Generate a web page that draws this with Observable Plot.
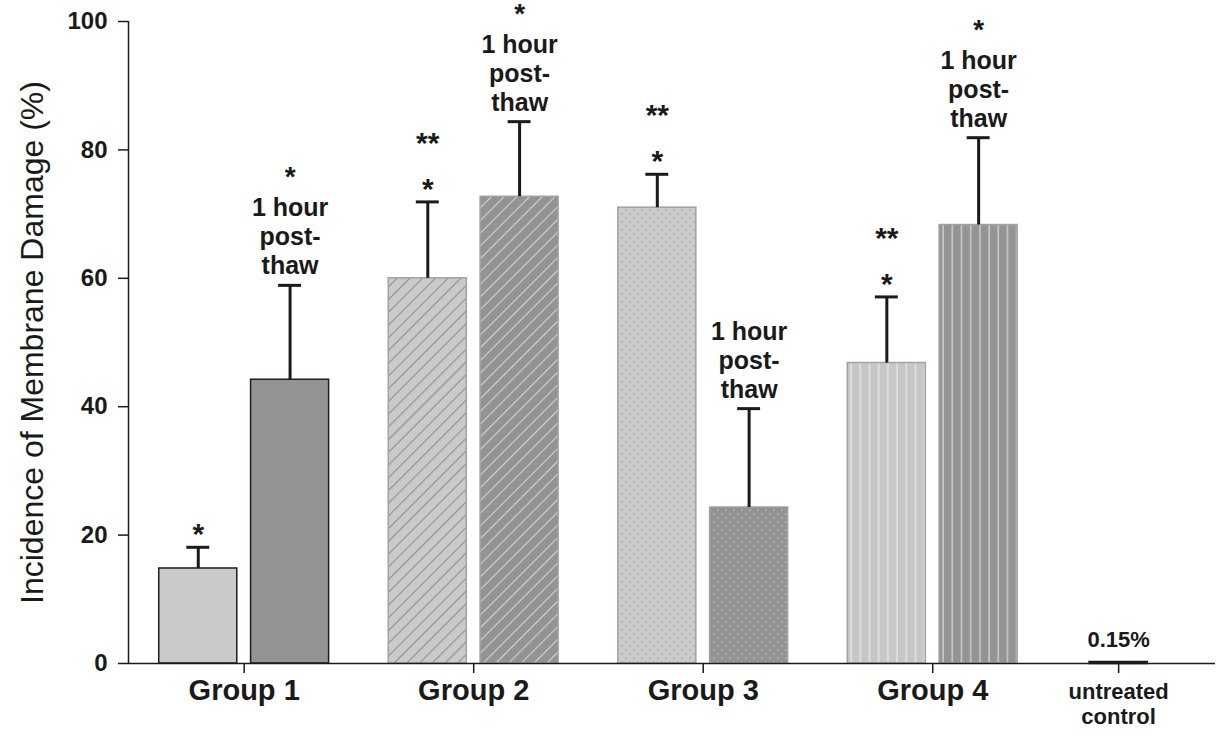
<!DOCTYPE html>
<html><head><meta charset="utf-8">
<script src="https://cdn.jsdelivr.net/npm/d3@7"></script>
<script src="https://cdn.jsdelivr.net/npm/@observablehq/plot@0.6"></script>
<style>
body{margin:0;background:#fff;}
#chart svg{display:block;}
</style>
</head><body><div id="chart"></div>
<script>
// ---- data ----
const groups = ["Group 1", "Group 2", "Group 3", "Group 4"];
const initialValues = [14.8, 60.0, 71.0, 46.8];
const initialErrorTops = [18.1, 71.9, 76.2, 57.1];
const postThawValues = [44.2, 72.7, 24.3, 68.3];
const postThawErrorTops = [58.9, 84.4, 39.7, 81.9];
const initialMarks = ["*", "*", "*", "*"];
const initialDoubleMarks = ["", "**", "**", "**"];
const postThawMarks = ["*", "*", "", "*"];
const postThawNote = "1 hour\npost-\nthaw";
const controlLabel = "untreated\ncontrol";
const controlValue = 0.15;
const controlText = "0.15%";
const yTicks = [0, 20, 40, 60, 80, 100];
const yLabel = "Incidence of Membrane Damage (%)";

// ---- layout / style (not data) ----
const offset = 0.2, bw = 0.34, capHalf = 0.05, controlPos = 3.81, controlHalf = 0.13;
const xDomain = [-0.504, 4.232];
const fills = [
  ["#c9cacc", "#929395"],
  ["url(#hatchlight)", "url(#hatchdark)"],
  ["url(#dotslight)", "url(#dotsdark)"],
  ["url(#vlight)", "url(#vdark)"]
];
const strokes = ["#1e1e1e", "#a2a2a2", "#a2a2a2", "#a2a2a2"];

const bars = [];
groups.forEach((g, i) => {
  bars.push({kind: "initial", gi: i, x: i - offset, v: initialValues[i], top: initialErrorTops[i],
             fill: fills[i][0], stroke: strokes[i], mark: initialMarks[i], mark2: initialDoubleMarks[i]});
  bars.push({kind: "post", gi: i, x: i + offset, v: postThawValues[i], top: postThawErrorTops[i],
             fill: fills[i][1], stroke: strokes[i], mark: postThawMarks[i], note: postThawNote});
});
const initialBars = bars.filter(d => d.kind === "initial");
const postBars = bars.filter(d => d.kind === "post");
const control = [{x: controlPos, v: controlValue, text: controlText}];

const font = "'Liberation Sans', Arial, Helvetica, sans-serif";

const chart = Plot.plot({
  width: 1220, height: 736,
  marginLeft: 128, marginRight: 5, marginTop: 21, marginBottom: 73,
  x: {domain: xDomain, axis: null},
  y: {domain: [0, 100], axis: null},
  color: {type: "identity"},
  style: {fontFamily: font, color: "#1a1a1a", background: "#fff", overflow: "visible"},
  marks: [
    Plot.rectY(bars, {x1: d => d.x - bw / 2, x2: d => d.x + bw / 2, y1: 0, y2: "v",
      fill: "fill", stroke: "stroke", strokeWidth: 1.5}),
    Plot.ruleX(bars, {x: "x", y1: "v", y2: "top", stroke: "#1a1a1a", strokeWidth: 3}),
    Plot.ruleY(bars, {y: "top", x1: d => d.x - capHalf, x2: d => d.x + capHalf, stroke: "#1a1a1a", strokeWidth: 3}),
    Plot.ruleY(control, {y: "v", x1: d => d.x - controlHalf, x2: d => d.x + controlHalf, stroke: "#1a1a1a", strokeWidth: 3.5}),
    Plot.ruleX([xDomain[0]], {stroke: "#1a1a1a", strokeWidth: 1.5}),
    Plot.ruleY([0], {stroke: "#1a1a1a", strokeWidth: 1.5}),
    Plot.axisY({ticks: yTicks, tickSize: 10, tickPadding: 11, fontSize: 24, fontWeight: "bold",
      label: null, stroke: "#1a1a1a", strokeWidth: 1.5}),
    Plot.axisX({ticks: [0, 1, 2, 3], tickFormat: i => groups[i], tickSize: 10, tickPadding: 6,
      fontSize: 29, fontWeight: "bold", label: null, strokeWidth: 1.5}),
    Plot.axisX({ticks: [controlPos], tickFormat: () => controlLabel, tickSize: 10, tickPadding: 8,
      fontSize: 22, fontWeight: "bold", lineHeight: 1.12, label: null, strokeWidth: 1.5}),
    Plot.text([yLabel], {frameAnchor: "left", textAnchor: "middle", rotate: -90, dx: -96,
      fontSize: 32, fill: "#1a1a1a"}),
    Plot.text(initialBars, {x: "x", y: "top", text: "mark", lineAnchor: "bottom", dy: -3,
      fontSize: 30, fontWeight: "bold"}),
    Plot.text(initialBars, {x: "x", y: "top", text: "mark2", lineAnchor: "bottom", dy: -49,
      fontSize: 30, fontWeight: "bold"}),
    Plot.text(postBars, {x: "x", y: "top", text: "note", lineAnchor: "bottom", dy: -11,
      fontSize: 25, fontWeight: "bold", lineHeight: 1.16}),
    Plot.text(postBars, {x: "x", y: "top", text: "mark", lineAnchor: "bottom", dy: -99,
      fontSize: 28, fontWeight: "bold"}),
    Plot.text(control, {x: "x", y: "v", text: "text", lineAnchor: "bottom", dy: -16,
      fontSize: 22, fontWeight: "bold"})
  ]
});

// pattern definitions
const defs = d3.select(chart).insert("defs", ":first-child");
function hatch(id, bg, fg) {
  const p = defs.append("pattern").attr("id", id).attr("patternUnits", "userSpaceOnUse")
    .attr("width", 9).attr("height", 9).attr("patternTransform", "rotate(45)");
  p.append("rect").attr("width", 9).attr("height", 9).attr("fill", bg);
  p.append("line").attr("x1", 0.5).attr("y1", 0).attr("x2", 0.5).attr("y2", 9)
    .attr("stroke", fg).attr("stroke-width", 1.1);
}
function dots(id, bg, fg) {
  const p = defs.append("pattern").attr("id", id).attr("patternUnits", "userSpaceOnUse")
    .attr("width", 8).attr("height", 8);
  p.append("rect").attr("width", 8).attr("height", 8).attr("fill", bg);
  p.append("circle").attr("cx", 2).attr("cy", 2).attr("r", 0.85).attr("fill", fg);
  p.append("circle").attr("cx", 6).attr("cy", 6).attr("r", 0.85).attr("fill", fg);
}
function vlines(id, bg, fg) {
  const p = defs.append("pattern").attr("id", id).attr("patternUnits", "userSpaceOnUse")
    .attr("width", 9.2).attr("height", 10);
  p.append("rect").attr("width", 9.2).attr("height", 10).attr("fill", bg);
  p.append("rect").attr("x", 4).attr("width", 1.4).attr("height", 10).attr("fill", fg);
}
hatch("hatchlight", "#c9cacc", "#8c8d8f");
hatch("hatchdark", "#929395", "#d4d5d6");
dots("dotslight", "#cacbcd", "#9a9b9d");
dots("dotsdark", "#929395", "#c2c3c5");
vlines("vlight", "#c6c7c9", "#e4e5e6");
vlines("vdark", "#939496", "#cfd0d2");

document.getElementById("chart").appendChild(chart);
</script>
</body></html>
